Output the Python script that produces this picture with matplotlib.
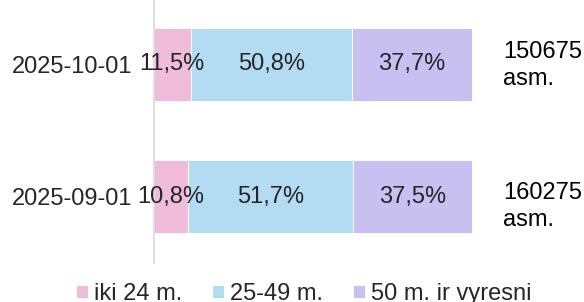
import matplotlib
matplotlib.use('Agg')
import matplotlib.pyplot as plt
import numpy as np

# data (bottom row first, as drawn)
dates = ['2025-09-01', '2025-10-01']
groups = ['iki 24 m.', '25-49 m.', '50 m. ir vyresni']
shares = {
    'iki 24 m.': [10.8, 11.5],
    '25-49 m.': [51.7, 50.8],
    '50 m. ir vyresni': [37.5, 37.7],
}
totals = [160275, 150675]

colors = ['#EFBCD9', '#B3DCF3', '#C8C0F1']
txt = '#262626'

plt.rcParams['font.family'] = ['Liberation Sans', 'DejaVu Sans']
plt.rcParams['font.size'] = 17

fig = plt.figure(figsize=(5.84, 3.02), dpi=100)
ax = fig.add_axes([154 / 584, 39 / 302, 318 / 584, 265 / 302])

y = np.arange(len(dates))
left = np.zeros(len(dates))
handles = []
for g, c in zip(groups, colors):
    vals = np.array(shares[g]) / 100
    b = ax.barh(y, vals, left=left, height=0.55, color=c,
                edgecolor='white', linewidth=0.6)
    handles.append(b)
    for yi, l, v, s in zip(y, left, vals, shares[g]):
        ax.text(l + v / 2, yi, f'{s:.1f}%'.replace('.', ','),
                ha='center', va='center', color=txt, fontsize=17)
    left = left + vals

# total labels to the right of the bars (px offsets for each row)
first_off = [-2, 6]
second_off = [-29, -21]
for yi, tot, o1, o2 in zip(y, totals, first_off, second_off):
    ax.annotate(str(tot), xy=(left[yi], yi), xytext=(31 * 0.72, o1 * 0.72),
                textcoords='offset points', ha='left', va='baseline',
                color='black', fontsize=17, annotation_clip=False)
    ax.annotate('asm.', xy=(left[yi], yi), xytext=(31 * 0.72, o2 * 0.72),
                textcoords='offset points', ha='left', va='baseline',
                color='black', fontsize=17, annotation_clip=False)

ax.set_xlim(0, 1)
ax.set_ylim(-0.5, 1.5)
ax.set_yticks(y)
ax.set_yticklabels(dates, color=txt, fontsize=17)
ax.set_xticks([])
ax.tick_params(axis='y', length=0, pad=15.8)
for s in ['top', 'right', 'bottom']:
    ax.spines[s].set_visible(False)
ax.spines['left'].set_color('#D9D9D9')
ax.spines['left'].set_linewidth(1.2)
ax.patch.set_alpha(0)

fig.legend(handles, groups, loc='center', bbox_to_anchor=(304 / 584, 8 / 302),
           ncol=3, frameon=False, fontsize=17, handlelength=0.51,
           handleheight=0.51, handletextpad=0.25, columnspacing=1.27,
           labelcolor=txt, borderpad=0, borderaxespad=0)

fig.savefig('out.png', dpi=100)
plt.close()
